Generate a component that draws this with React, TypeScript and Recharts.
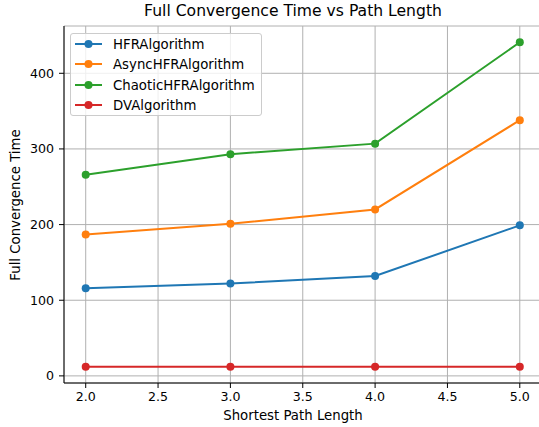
import React from "react";
import { LineChart, Line, XAxis, YAxis, CartesianGrid } from "recharts";

const pathLengths = [2, 3, 4, 5];
const hfr = [116, 122, 132, 199];
const asyncHfr = [187, 201, 220, 338];
const chaoticHfr = [266, 293, 307, 441];
const dv = [12, 12, 12, 12];
const xTicks = [2.0, 2.5, 3.0, 3.5, 4.0, 4.5, 5.0];
const yTicks = [0, 100, 200, 300, 400];

const seriesList = [
  { key: "HFRAlgorithm", values: hfr, color: "#1f77b4" },
  { key: "AsyncHFRAlgorithm", values: asyncHfr, color: "#ff7f0e" },
  { key: "ChaoticHFRAlgorithm", values: chaoticHfr, color: "#2ca02c" },
  { key: "DVAlgorithm", values: dv, color: "#d62728" },
];

const data = pathLengths.map((x, i) => {
  const row: Record<string, number> = { x };
  seriesList.forEach((s) => (row[s.key] = s.values[i]));
  return row;
});

const FONT = "'DejaVu Sans', sans-serif";

const LegendBox = () => (
  <div
    style={{
      position: "absolute",
      left: 70,
      top: 33,
      width: 190,
      height: 81,
      border: "1px solid #cccccc",
      borderRadius: 3,
      background: "rgba(255,255,255,0.8)",
      fontFamily: FONT,
      fontSize: 13.3,
      color: "#000",
      boxSizing: "content-box",
    }}
  >
    {seriesList.map((s, i) => (
      <div
        key={s.key}
        style={{ position: "absolute", left: 0, top: i * 20.3, height: 20, width: 190 }}
      >
        <svg width={30} height={20} style={{ position: "absolute", left: 4, top: 0 }}>
          <line x1={0} x2={27} y1={10} y2={10} stroke={s.color} strokeWidth={2} />
          <circle cx={13.5} cy={10} r={4} fill={s.color} />
        </svg>
        <span style={{ position: "absolute", left: 42, top: 10, transform: "translateY(-50%)", whiteSpace: "nowrap", lineHeight: "15px" }}>
          {s.key}
        </span>
      </div>
    ))}
  </div>
);

export default function App() {
  return (
    <div
      style={{
        position: "absolute",
        left: 0,
        top: 0,
        width: 539,
        height: 427,
        overflow: "hidden",
        background: "#fff",
        fontFamily: FONT,
      }}
    >
      <LineChart width={545} height={427} data={data} margin={{ top: 26, right: 3.5, bottom: 0, left: 0 }}>
        <CartesianGrid stroke="#b0b0b0" strokeWidth={1} />
        <XAxis
          dataKey="x"
          type="number"
          domain={[1.85, 5.15]}
          ticks={xTicks}
          allowDataOverflow
          tickFormatter={(v: number) => v.toFixed(1)}
          height={44}
          tickSize={5}
          tickMargin={4}
          axisLine={{ stroke: "#000", strokeWidth: 1 }}
          tickLine={{ stroke: "#000", strokeWidth: 1 }}
          tick={{ fill: "#000", fontSize: 12.6, fontFamily: FONT }}
          interval={0}
        />
        <XAxis
          xAxisId="top"
          orientation="top"
          type="number"
          domain={[1.85, 5.15]}
          height={0}
          tick={false}
          tickLine={false}
          axisLine={{ stroke: "#000", strokeWidth: 1 }}
        />
        <YAxis
          type="number"
          domain={[-9.4, 462.5]}
          ticks={yTicks}
          allowDataOverflow
          width={64}
          tickSize={5}
          tickMargin={5}
          axisLine={{ stroke: "#000", strokeWidth: 1 }}
          tickLine={{ stroke: "#000", strokeWidth: 1 }}
          tick={{ fill: "#000", fontSize: 12.6, fontFamily: FONT }}
          interval={0}
        />
        {seriesList.map((s) => (
          <Line
            key={s.key}
            dataKey={s.key}
            name={s.key}
            stroke={s.color}
            strokeWidth={2}
            dot={{ r: 4, fill: s.color, stroke: s.color, strokeWidth: 0 }}
            activeDot={false}
            isAnimationActive={false}
          />
        ))}
      </LineChart>
      <LegendBox />
      <div
        style={{
          position: "absolute",
          left: 93,
          width: 400,
          top: 2,
          textAlign: "center",
          fontSize: 15.6,
          color: "#000",
          whiteSpace: "nowrap",
        }}
      >
        Full Convergence Time vs Path Length
      </div>
      <div
        style={{
          position: "absolute",
          left: 93,
          width: 400,
          top: 407.5,
          textAlign: "center",
          fontSize: 13.3,
          color: "#000",
          whiteSpace: "nowrap",
        }}
      >
        Shortest Path Length
      </div>
      <div
        style={{
          position: "absolute",
          left: 14.5,
          top: 204.5,
          transform: "translate(-50%, -50%) rotate(-90deg)",
          fontSize: 13.3,
          color: "#000",
          whiteSpace: "nowrap",
        }}
      >
        Full Convergence Time
      </div>
    </div>
  );
}
